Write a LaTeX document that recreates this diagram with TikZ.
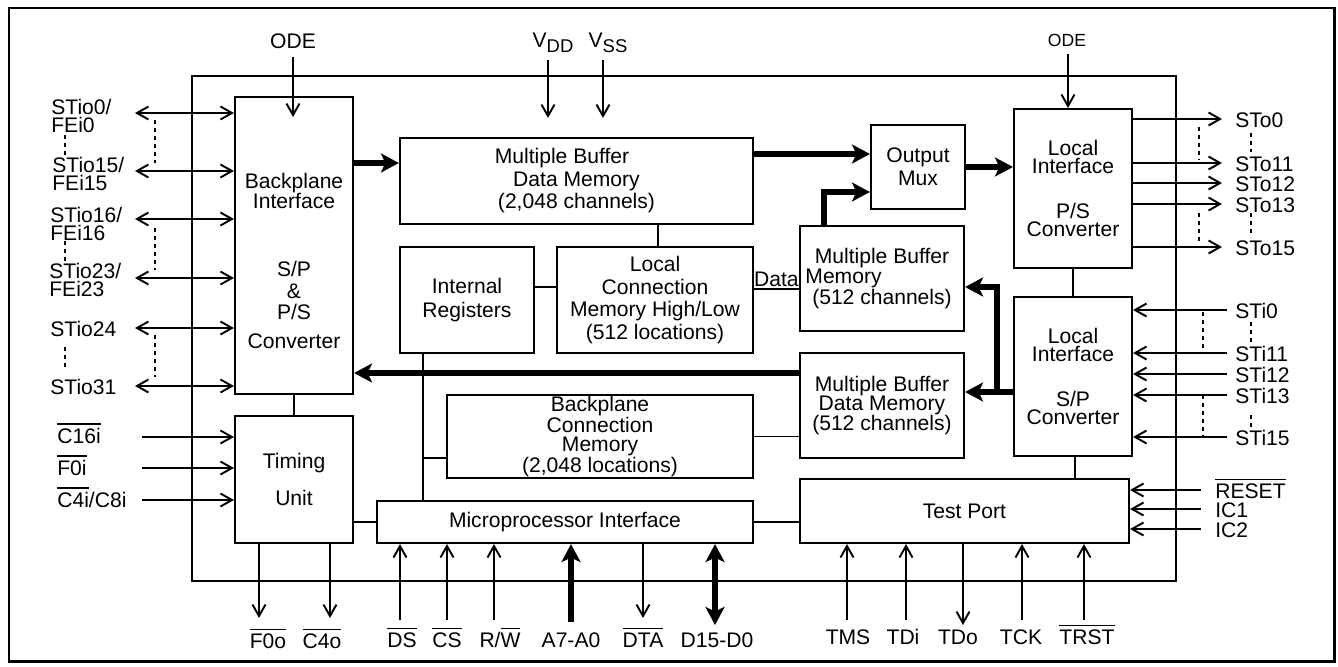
\documentclass[tikz,border=0pt]{standalone}
\usepackage{fontspec}
\setmainfont{Liberation Sans}
\usetikzlibrary{arrows.meta,calc}
\tikzset{
  blk/.style 2 args={draw, line width=1.2pt, inner sep=0pt, align=center,
    minimum width=#1*0.02cm, minimum height=#2*0.02cm},
  wire/.style={line width=1.1pt},
  bus/.style={line width=2.9pt, >={Stealth[length=3.6mm,width=3.8mm,inset=0.9mm]}},
  dots/.style={line width=1.1pt, dash pattern=on 0.8mm off 0.8mm},
  lbl/.style={inner sep=0pt}
}
% overlined pin names
\newcommand{\ov}[1]{\vbox{\hrule height 0.9pt\kern1.8pt\hbox{#1}}}
\newcommand{\sz}[1]{\fontsize{12}{#1}\selectfont}

\begin{document}
\begin{tikzpicture}[x=0.02cm, y=-0.02cm, font=\sz{12.8pt},
  >={Straight Barb[length=2.3mm,width=2.6mm]}]
\useasboundingbox (0,0) rectangle (1338,666);
\draw[line width=1.7pt] (9,8) rectangle (1334,661);
\draw[line width=1pt] (192,76) rectangle (1176,581);

% blocks
\node[blk={118}{297}] (bpi) at (294,245.5) {};
\node[lbl, align=center, font=\sz{12.8pt}] (bpit) at (294,261)
  {Backplane\\[-1.5pt]Interface\\[26pt]S/P\\\&\\[-1pt]P/S\\[4pt]Converter};
\node[blk={118}{127}] (tim) at (294,479.5) {Timing\\[8pt]Unit};
\node[blk={353}{86}] (mbd) at (576.5,181) {Multiple Buffer\hspace*{0.58cm}\null\\Data Memory\\(2,048 channels)};
\node[blk={94}{84}, font=\sz{13pt}] (mux) at (918,167) {Output\\Mux};
\node[blk={118}{159}, font=\sz{10.5pt}] (lps) at (1073,188.5) {Local\\Interface\\[15pt]P/S\\Converter};
\node[blk={118}{159}, font=\sz{10.5pt}] (lsp) at (1073,376.5) {Local\\Interface\\[15pt]S/P\\Converter};
\node[blk={134}{106}, font=\sz{13.6pt}] (ireg) at (467,300) {Internal\\Registers};
\node[blk={196}{106}] (lcm) at (655,300) {Local\\Connection\\Memory High/Low\\(512 locations)};
\node[blk={164}{105}, font=\sz{11.9pt}] (mbm) at (882,278.5) {Multiple Buffer\\Memory\hspace*{1.54cm}\null\\(512 channels)};
\node[blk={164}{105}, font=\sz{11.3pt}] (mbd2) at (882,405.5) {Multiple Buffer\\Data Memory\\(512 channels)};
\node[blk={306}{83}, font=\sz{10.4pt}] (bcm) at (600,436.5) {Backplane\\Connection\\Memory\\(2,048 locations)};
\node[blk={376}{42}] (mpi) at (565,522) {Microprocessor Interface};
\node[blk={329}{64}] (tp) at (964.5,511) {Test Port};

% internal links
\draw[wire] (bpi) -- (tim);
\draw[wire] (tim.east |- mpi.west) -- (mpi.west);
\draw[wire] (mpi.east) -- (mpi.east -| tp.west);
\draw[wire] (lcm.north -| 658,0) -- (mbd.south -| 658,0);
\draw[wire] (ireg.east |- 0,287) -- (lcm.west |- 0,287);
\draw[wire] (lcm.east |- 0,289) -- (mbm.west |- 0,289);
\node[lbl, anchor=base east] (data) at (799,286) {Data};
\draw[wire] (bcm.east) -- (bcm.east -| mbd2.west);
\draw[wire] (ireg.south -| 423,0) -- (mpi.north -| 423,0);
\draw[wire] (423,458) -- (bcm.west |- 0,458);
\draw[wire] (lps) -- (lsp);
\draw[wire] (lsp.south -| 1075,0) -- (tp.north -| 1075,0);

% data buses
\draw[bus,->] (bpi.east |- 0,163) -- (mbd.west |- 0,163);
\draw[bus,->] (mbd.east |- 0,154) -- (mux.west |- 0,154);
\draw[bus,->] (mbm.north -| 824,0) |- (mux.west |- 0,192);
\draw[bus,->] (mux.east) -- (mux.east -| lps.west);
\draw[bus,->] (lsp.west |- 0,392) -- (mbd2.east |- 0,392);
\draw[bus,->] (997,392) |- (mbm.east |- 0,287);
\draw[bus,->] (mbd2.west |- 0,373) -- (bpi.east |- 0,373);

% supply and enables
\node[lbl] (ode1) at (293,41) {ODE};
\draw[wire,->] (293,57) -- (293,117);
\node[lbl, anchor=base] (vdd) at (553,47) {V\raisebox{-3.4pt}{\fontsize{10.5}{10}\selectfont DD}};
\node[lbl, anchor=base] (vss) at (608,47) {V\raisebox{-3.4pt}{\fontsize{10.5}{10}\selectfont SS}};
\draw[wire,->] (548,60) -- (548,118);
\draw[wire,->] (603,60) -- (603,118);
\node[lbl, font=\fontsize{10}{10}\selectfont] (ode2) at (1067,40) {ODE};
\draw[wire,->] (1068,54) -- (lps.north -| 1068,0);

% backplane streams
\foreach \y in {113,171,219,278,328,386}
  \draw[wire,<->] (135,\y) -- (bpi.west |- 0,\y);
\node[lbl, anchor=north west, align=left, font=\sz{10.2pt}] (bs0) at (51,99) {STio0/\\FEi0};
\node[lbl, anchor=north west, align=left, font=\sz{10.2pt}] (bs15) at (52,157) {STio15/\\FEi15};
\node[lbl, anchor=north west, align=left, font=\sz{10.2pt}] (bs16) at (50,207) {STio16/\\FEi16};
\node[lbl, anchor=north west, align=left, font=\sz{10.2pt}] (bs23) at (49,263) {STio23/\\FEi23};
\node[lbl, anchor=west] (bs24) at (50,329) {STio24};
\node[lbl, anchor=west] (bs31) at (50,387) {STio31};
\foreach \a/\b in {120/163,228/270,335/377}
  \draw[dots] (155,\a) -- (155,\b);
\foreach \a/\b in {135/155,241/261,347/367}
  \draw[dots] (65,\a) -- (65,\b);

% timing
\foreach \y in {437,468,500}
  \draw[wire,->] (142,\y) -- (tim.west |- 0,\y);
\node[lbl, anchor=base west] (c16) at (57,443) {\ov{C16i}};
\node[lbl, anchor=base west] (f0i) at (57,475) {\ov{F0i}};
\node[lbl, anchor=base west] (c4i) at (57,507) {\ov{C4i}/C8i};
\foreach \x in {259,330}
  \draw[wire,->] (tim.south -| \x,0) -- (\x,618);
\node[lbl, anchor=base] (f0o) at (268,648) {\ov{F0o}};
\node[lbl, anchor=base] (c4o) at (322,648) {\ov{C4o}};

% microprocessor port
\foreach \x in {400,447,494}
  \draw[wire,->] (\x,620) -- (mpi.south -| \x,0);
\draw[bus,->] (571,622) -- (mpi.south -| 571,0);
\draw[wire,->] (mpi.south -| 643,0) -- (643,618);
\draw[bus,<->] (715,625) -- (mpi.south -| 715,0);
\node[lbl, anchor=base] (ds) at (402,647) {\ov{DS}};
\node[lbl, anchor=base] (cs) at (447,647) {\ov{CS}};
\node[lbl, anchor=base] (rw) at (500,647) {R/\ov{W}};
\node[lbl, anchor=base] (adr) at (571,647) {A7-A0};
\node[lbl, anchor=base] (dta) at (643,647) {\ov{DTA}};
\node[lbl, anchor=base] (dat) at (717,647) {D15-D0};

% test port
\foreach \x in {847,906,1022,1084}
  \draw[wire,->] (\x,620) -- (tp.south -| \x,0);
\draw[wire,->] (tp.south -| 963,0) -- (963,625);
\node[lbl, anchor=base] (tms) at (848,644) {TMS};
\node[lbl, anchor=base] (tdi) at (903,644) {TDi};
\node[lbl, anchor=base] (tdo) at (958,644) {TDo};
\node[lbl, anchor=base] (tck) at (1021,644) {TCK};
\node[lbl, anchor=base] (trst) at (1087,644) {\ov{TRST}};
\foreach \y in {490,509,529}
  \draw[wire,->] (1201,\y) -- (tp.east |- 0,\y);
\node[lbl, anchor=base west] (rst) at (1215,498) {\ov{RESET}};
\node[lbl, anchor=base west] (ic1) at (1215,517) {IC1};
\node[lbl, anchor=base west] (ic2) at (1215,537) {IC2};

% local streams
\foreach \y in {119,163,183,204,247}
  \draw[wire,->] (lps.east |- 0,\y) -- (1222,\y);
\foreach \y in {310,353,374,395,437}
  \draw[wire,->] (1227,\y) -- (lsp.east |- 0,\y);
\node[lbl, anchor=west] (so0) at (1235,120) {STo0};
\node[lbl, anchor=west] (so11) at (1235,164) {STo11};
\node[lbl, anchor=west] (so12) at (1235,184) {STo12};
\node[lbl, anchor=west] (so13) at (1235,205) {STo13};
\node[lbl, anchor=west] (so15) at (1235,248) {STo15};
\node[lbl, anchor=west] (si0) at (1235,311) {STi0};
\node[lbl, anchor=west] (si11) at (1235,354) {STi11};
\node[lbl, anchor=west] (si12) at (1235,375) {STi12};
\node[lbl, anchor=west] (si13) at (1235,396) {STi13};
\node[lbl, anchor=west] (si15) at (1235,438) {STi15};
\foreach \x/\a/\b in {1199/127/160,1199/213/243,1203/312/352,1203/395/437,
    1251/133/152,1251/213/237,1251/322/345,1251/415/428}
  \draw[dots] (\x,\a) -- (\x,\b);
\end{tikzpicture}
\end{document}
